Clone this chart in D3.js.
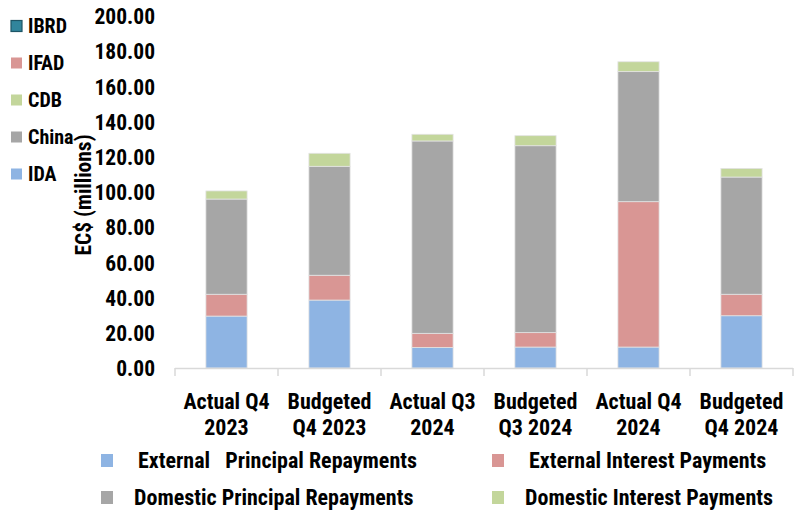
<head>
<style>
  body { margin: 0; background-color: white; }
  text { font-family: "Liberation Sans Narrow", "Roboto Condensed", Roboto, sans-serif; font-weight: bold; fill: #000; }
</style>
</head>
<body>
<svg width="801" height="511"></svg>
<script src="https://cdnjs.cloudflare.com/ajax/libs/d3/7.8.5/d3.min.js"></script>
<script>
var categories = [["Actual Q4", "2023"], ["Budgeted", "Q4 2023"], ["Actual Q3", "2024"],
                  ["Budgeted", "Q3 2024"], ["Actual Q4", "2024"], ["Budgeted", "Q4 2024"]];
var extPrincipal = [29.5, 38.6, 11.7, 11.9, 11.9, 29.7];
var extInterest  = [12.4, 14.1, 8.0, 8.2, 82.6, 12.2];
var domPrincipal = [54.1, 61.9, 109.3, 106.2, 73.9, 66.6];
var domInterest  = [4.6, 7.4, 3.8, 5.7, 5.6, 4.9];
var seriesNames = ["External   Principal Repayments", "External Interest Payments",
                   "Domestic Principal Repayments", "Domestic Interest Payments"];
var lenderNames = ["IBRD", "IFAD", "CDB", "China", "IDA"];
var yTicks = [0, 20, 40, 60, 80, 100, 120, 140, 160, 180, 200];

var colors = ["#8eb4e3", "#d99694", "#a6a6a6", "#c3d69b"];
var lenderColors = ["#31859c", "#d99694", "#c3d69b", "#a6a6a6", "#8eb4e3"];

var svg = d3.select("svg");

var keys = ["ep", "ei", "dp", "di"];
var rows = categories.map(function(c, i) {
  return { cat: c.join(" "), ep: extPrincipal[i], ei: extInterest[i], dp: domPrincipal[i], di: domInterest[i] };
});

var x = d3.scaleBand()
    .domain(rows.map(function(d) { return d.cat; }))
    .range([175, 793])
    .paddingInner(0.6)
    .paddingOuter(0.3);

var y = d3.scaleLinear().domain([0, 200]).range([368, 16]);

var stack = d3.stack().keys(keys)(rows);

// bars
svg.append("g").selectAll("g")
  .data(stack)
  .enter().append("g")
    .attr("fill", function(d, i) { return colors[i]; })
  .selectAll("rect")
  .data(function(d) { return d; })
  .enter().append("rect")
    .attr("x", function(d) { return x(d.data.cat); })
    .attr("width", x.bandwidth())
    .attr("y", function(d) { return y(d[1]); })
    .attr("height", function(d) { return y(d[0]) - y(d[1]); })
    .attr("stroke", "#e3e3e3")
    .attr("stroke-width", 0.8);

// x axis line + boundary ticks
var xa = svg.append("g").attr("stroke", "#d9d9d9").attr("stroke-width", 1.5);
xa.append("line")
  .attr("x1", x.range()[0]).attr("x2", x.range()[1])
  .attr("y1", y(0) + 0.5).attr("y2", y(0) + 0.5);
xa.selectAll(".tk")
  .data(d3.range(categories.length + 1))
  .enter().append("line")
    .attr("x1", function(i) { return x.range()[0] + i * x.step(); })
    .attr("x2", function(i) { return x.range()[0] + i * x.step(); })
    .attr("y1", y(0)).attr("y2", y(0) + 8);

// x labels
var xl = svg.append("g").selectAll("text")
  .data(rows)
  .enter().append("text")
    .attr("text-anchor", "middle")
    .attr("x", function(d) { return x(d.cat) + x.bandwidth() / 2; })
    .style("font-size", "22px");
xl.append("tspan").attr("y", 409).text(function(d, i) { return categories[i][0]; });
xl.append("tspan").attr("y", 435).attr("x", function(d) { return x(d.cat) + x.bandwidth() / 2; })
  .text(function(d, i) { return categories[i][1]; });

// y axis
var yAxis = svg.append("g")
  .attr("transform", "translate(155,0)")
  .call(d3.axisLeft(y).tickValues(yTicks).tickFormat(d3.format(".2f")).tickSize(0).tickPadding(0));
yAxis.select(".domain").remove();
yAxis.attr("font-family", null).attr("font-size", null);
yAxis.selectAll("text")
  .attr("dy", "0.36em")
  .style("font-size", "21.5px");

svg.append("text")
  .attr("transform", "translate(91,195) rotate(-90)")
  .attr("text-anchor", "middle")
  .style("font-size", "21.5px")
  .text("EC$ (millions)");

// lender legend (top left)
var ll = svg.append("g").selectAll("g")
  .data(lenderNames)
  .enter().append("g")
    .attr("transform", function(d, i) { return "translate(11," + (26 + i * 37) + ")"; });
ll.append("rect")
  .attr("x", 0).attr("y", -5.5).attr("width", 11).attr("height", 11)
  .attr("fill", function(d, i) { return lenderColors[i]; })
  .attr("stroke", function(d, i) { return i === 0 ? "#1d5566" : "none"; })
  .attr("stroke-width", 1.2);
ll.append("text")
  .attr("x", 17).attr("y", 7)
  .style("font-size", "20px")
  .text(function(d) { return d; });

// series legend (bottom)
var legendPos = [[101, 138, 460], [492, 529, 460], [101, 134, 497], [492, 525, 497]];
var sl = svg.append("g").selectAll("g")
  .data(seriesNames)
  .enter().append("g");
sl.append("rect")
  .attr("x", function(d, i) { return legendPos[i][0]; })
  .attr("y", function(d, i) { return legendPos[i][2] - 6; })
  .attr("width", 12).attr("height", 13)
  .attr("fill", function(d, i) { return colors[i]; });
sl.append("text")
  .attr("x", function(d, i) { return legendPos[i][1]; })
  .attr("y", function(d, i) { return legendPos[i][2] + 8; })
  .attr("xml:space", "preserve")
  .style("white-space", "pre")
  .style("font-size", "22px")
  .text(function(d) { return d; });
</script>
</body>
